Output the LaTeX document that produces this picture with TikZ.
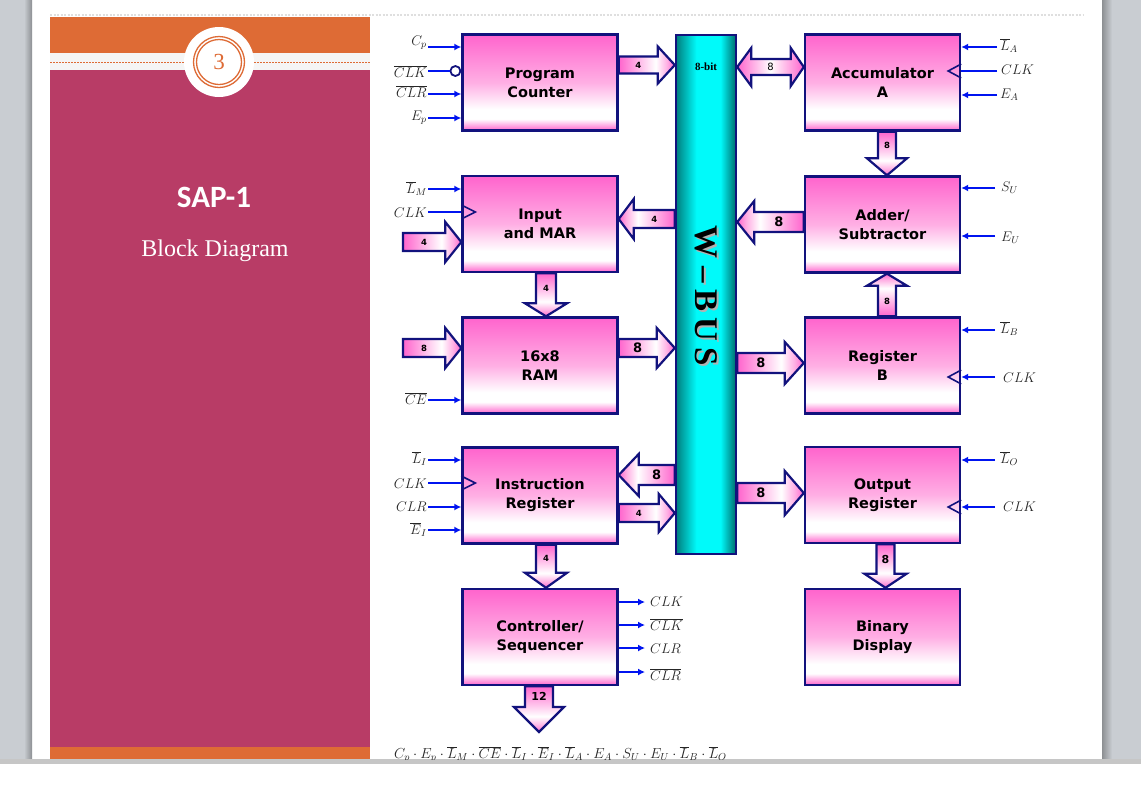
\RequirePackage{fix-cm}
\documentclass[tikz,border=0pt]{standalone}
\usepackage{fontspec}
\setsansfont{DejaVu Sans}
\newfontfamily\carlito{Carlito}
\newfontfamily\lserif{Liberation Serif}
\usetikzlibrary{arrows.meta,calc}

\definecolor{pk}{RGB}{255,100,205}
\definecolor{pkl}{RGB}{255,175,228}
\definecolor{navyb}{RGB}{18,18,125}
\definecolor{sigblue}{RGB}{0,20,240}
\definecolor{slorange}{RGB}{222,107,53}
\definecolor{slmag}{RGB}{184,60,102}
\definecolor{teal1}{RGB}{0,125,125}
\definecolor{cyan1}{RGB}{0,250,250}
\definecolor{sidegray}{RGB}{201,205,210}

\pgfdeclareverticalshading{boxshade}{100bp}{color(0bp)=(pk); color(25bp)=(pk); color(31bp)=(white); color(36bp)=(white); color(50bp)=(pkl); color(75bp)=(pk); color(100bp)=(pk)}
\pgfdeclarehorizontalshading{arrowshade}{100bp}{color(0bp)=(pk); color(25bp)=(pk); color(58bp)=(white); color(68bp)=(pkl); color(75bp)=(pk); color(100bp)=(pk)}
\pgfdeclarehorizontalshading{dblshade}{100bp}{color(0bp)=(pk); color(25bp)=(pk); color(50bp)=(white); color(75bp)=(pk); color(100bp)=(pk)}
\pgfdeclarehorizontalshading{busshade}{100bp}{color(0bp)=(teal1); color(25bp)=(teal1); color(42bp)=(cyan1); color(62bp)=(cyan1); color(75bp)=(teal1!85!black); color(100bp)=(teal1!85!black)}

\newcommand\boxf{\sffamily\bfseries\fontsize{14.5}{19}\selectfont}
\newcommand\smf{\sffamily\bfseries\fontsize{8.5}{10}\selectfont}
\newcommand\mdf{\sffamily\bfseries\fontsize{11}{13}\selectfont}
\newcommand\lgf{\sffamily\bfseries\fontsize{13}{15}\selectfont}
\newcommand\rgf{\sffamily\fontsize{10}{12}\selectfont}
\newcommand\labf{\fontsize{14}{16}\selectfont}
\newcommand\busf{\lserif\bfseries\fontsize{33}{34}\selectfont}

% horizontal fat arrow: angle, tail, tip, label, font, shaft half, head half, head length
\newcommand{\fatH}[8]{%
 \draw[fat, shading angle=#1] let \p1=#2, \p2=#3, \n1={ifthenelse(\x2>\x1,#8,-#8)} in
 (\x1,\y1+#6pt) -- ({\x2-(\n1)},\y1+#6pt) -- ({\x2-(\n1)},\y1+#7pt) -- (\x2,\y1)
 -- ({\x2-(\n1)},\y1-#7pt) -- ({\x2-(\n1)},\y1-#6pt) -- (\x1,\y1-#6pt) -- cycle
 node[font=#5, inner sep=0pt] at ({(\x1+\x2-(\n1))/2},\y1) {#4};}
% vertical fat arrow
\newcommand{\fatV}[8]{%
 \draw[fat, shading angle=#1] let \p1=#2, \p2=#3, \n1={ifthenelse(\y2>\y1,#8,-#8)} in
 (\x1+#6pt,\y1) -- (\x1+#6pt,{\y2-(\n1)}) -- (\x1+#7pt,{\y2-(\n1)}) -- (\x1,\y2)
 -- (\x1-#7pt,{\y2-(\n1)}) -- (\x1-#6pt,{\y2-(\n1)}) -- (\x1-#6pt,\y1) -- cycle
 node[font=#5, inner sep=0pt] at (\x1,{(\y1+\y2-(\n1))/2}) {#4};}
\newcommand{\clkL}[2]{\draw[clk] (#1.west |- 0,#2) ++(0,-7) -- ++(14,7) -- ++(-14,7);}
\newcommand{\clkR}[2]{\draw[clk] (#1.east |- 0,#2) ++(0,-7) -- ++(-13,7) -- ++(13,7);}

\begin{document}
\begin{tikzpicture}[x=1pt,y=-1pt,
  box/.style={draw=navyb, line width=2.4pt, shading=boxshade, minimum width=155pt, minimum height=96pt, inner sep=0pt, font=\boxf, align=center, text=black},
  fat/.style={draw=navyb, line width=2.2pt, line join=miter, shading=arrowshade},
  sig/.style={draw=sigblue, line width=2.2pt, -{Latex[length=7pt,width=7pt]}},
  sigp/.style={draw=sigblue, line width=2.2pt},
  clk/.style={draw=navyb, line width=1.6pt, line join=miter},
  lab/.style={font=\labf, text=black!85, inner sep=0pt},
  bubble/.style={circle, draw=navyb, line width=1.8pt, fill=white, minimum size=10pt, inner sep=0pt}
]
\useasboundingbox (0,0) rectangle (1141,807);
% slide background
\fill[white] (0,0) rectangle (1141,807);
\fill[sidegray] (0,0) rectangle (32,759);
\shade[left color=sidegray, right color=sidegray!70!black] (24,0) rectangle (32,759);
\fill[sidegray] (1102,0) rectangle (1141,759);
\shade[left color=sidegray!70!black, right color=sidegray] (1102,0) rectangle (1112,759);
\fill[gray!45] (0,759) rectangle (1141,764);
\draw[gray!25, line width=1.5pt, dash pattern=on 2pt off 1.5pt] (50,15) -- (1083,15);

% left panel
\fill[slorange] (50,17) rectangle (370,53);
\fill[gray!8] (50,53) rectangle (370,70);
\draw[slorange, line width=0.8pt, dash pattern=on 2pt off 1pt] (50,62) -- (370,62);
\fill[slmag] (50,70) rectangle (370,747);
\fill[slorange] (50,747) rectangle (370,759);
\node[circle, fill=white, minimum size=70pt, inner sep=0pt] (circ) at (219,62) {};
\draw[slorange, line width=1.3pt] (circ.center) circle[radius=25.5pt];
\draw[slorange, line width=1.3pt] (circ.center) circle[radius=22.5pt];
\node[font=\lserif\fontsize{23}{24}\selectfont, text=slorange] (num) at (219,62) {3};
\node[font=\carlito\bfseries\fontsize{31}{34}\selectfont, text=white] (title) at (214,197) {SAP-1};
\node[font=\lserif\fontsize{24}{26}\selectfont, text=white] (subtitle) at (215,251) {Block Diagram};

% blocks
\node[box] (pc) at (540,82.5) {Program\\Counter};
\node[box] (acc) at (882.5,82.5) {Accumulator\\A};
\node[box] (mar) at (540,224) {Input\\and MAR};
\node[box] (ram) at (540,365.5) {16x8\\RAM};
\node[box] (adder) at (882.5,224.5) {Adder/\\Subtractor};
\node[box] (regb) at (882.5,365.5) {Register\\B};
\node[box] (ir) at (540,495.5) {Instruction\\Register};
\node[box] (out) at (882.5,495) {Output\\Register};
\node[box] (ctrl) at (540,637) {Controller/\\Sequencer};
\node[box] (disp) at (882.5,637) {Binary\\Display};
\node[draw=navyb, line width=2.4pt, shading=busshade, minimum width=60pt, minimum height=519pt, inner sep=0pt] (bus) at (706,294.5) {};
\node[font=\lserif\bfseries\fontsize{11}{12}\selectfont] (bit) at (706,67) {8-bit};
\node[rotate=-90, font=\busf, text=gray!60] (wbuss) at (708,298) {W\hspace{0.22em}–\hspace{0.22em}B\hspace{0.18em}U\hspace{0.18em}S};
\node[rotate=-90, font=\busf, text=black] (wbus) at (706,296) {W\hspace{0.22em}–\hspace{0.22em}B\hspace{0.18em}U\hspace{0.18em}S};

% fat arrows
\fatH{0}{(pc.east |- 0,65)}{(bus.west |- 0,65)}{4}{\smf}{8.5}{18.5}{17}
\draw[fat, shading=dblshade] let \p1=(bus.east |- 0,67), \p2=(acc.west |- 0,67) in
 (\x1,\y1) -- (\x1+14pt,\y1+19pt) -- (\x1+14pt,\y1+8pt) -- (\x2-13pt,\y1+8pt) -- (\x2-13pt,\y1+19pt) -- (\x2,\y1)
 -- (\x2-13pt,\y1-19pt) -- (\x2-13pt,\y1-8pt) -- (\x1+14pt,\y1-8pt) -- (\x1+14pt,\y1-19pt) -- cycle
 node[font=\rgf, inner sep=0pt] at ({(\x1+\x2)/2},\y1) {8};
\fatH{180}{(bus.west |- 0,219)}{(mar.east |- 0,219)}{4}{\smf}{9}{20}{15}
\coordinate (inMAR) at (403,242);
\fatH{0}{(inMAR)}{(mar.west |- inMAR)}{4}{\smf}{9}{20}{16}
\fatV{-90}{([xshift=6pt]mar.south)}{([xshift=6pt]ram.north)}{4}{\smf}{10}{21}{13}
\coordinate (inRAM) at (403,348);
\fatH{0}{(inRAM)}{(ram.west |- inRAM)}{8}{\smf}{9}{20}{16}
\fatH{0}{(ram.east |- 0,348)}{(bus.west |- 0,348)}{8}{\lgf}{9}{20}{18}
\fatV{-90}{([xshift=4.5pt]acc.south)}{([xshift=4.5pt]adder.north)}{8}{\smf}{9}{20}{17}
\fatH{180}{(adder.west |- 0,222)}{(bus.east |- 0,222)}{8}{\lgf}{10}{21}{17}
\fatV{90}{([xshift=4.5pt]regb.north)}{([xshift=4.5pt]adder.south)}{8}{\smf}{9}{20}{12}
\fatH{0}{(bus.east |- 0,363)}{(regb.west |- 0,363)}{8}{\lgf}{10}{21}{19}
\fatH{180}{(bus.west |- 0,475)}{(ir.east |- 0,475)}{8}{\lgf}{10}{21}{20}
\fatH{0}{(ir.east |- 0,513)}{(bus.west |- 0,513)}{4}{\smf}{9}{19}{16}
\fatH{0}{(bus.east |- 0,493)}{(out.west |- 0,493)}{8}{\lgf}{10}{22}{19}
\fatV{-90}{([xshift=6pt]ir.south)}{([xshift=6pt]ctrl.north)}{4}{\smf}{10}{21}{15}
\fatV{-90}{([xshift=3pt]out.south)}{([xshift=3pt]disp.north)}{8}{\mdf}{9}{21}{14}
\coordinate (c12) at (539,732);
\fatV{-90}{(ctrl.south -| c12)}{(c12)}{12}{\mdf}{14}{25}{25}

% Program counter inputs
\coordinate (pcs1) at (428,47);
\node[lab, anchor=base east] (tcp) at (427,45) {$C_p$};
\draw[sig] (pcs1) -- (pcs1 -| pc.west);
\coordinate (pcs2) at (428,71);
\node[lab, anchor=base east] (tclkb) at (427,77) {$\overline{CLK}$};
\node[bubble, anchor=east] (bub) at (pc.west |- pcs2) {};
\draw[sigp] (pcs2) -- (bub.west);
\coordinate (pcs3) at (428,94);
\node[lab, anchor=base east] (tclrb) at (427,97) {$\overline{CLR}$};
\draw[sig] (pcs3) -- (pcs3 -| pc.west);
\coordinate (pcs4) at (428,118);
\node[lab, anchor=base east] (tep) at (427,120) {$E_p$};
\draw[sig] (pcs4) -- (pcs4 -| pc.west);

% Accumulator inputs
\coordinate (as1) at (997,47);
\node[lab, anchor=base west] (tla) at (1000,50) {$\overline{L}_A$};
\draw[sig] (as1) -- (as1 -| acc.east);
\coordinate (as2) at (997,71);
\node[lab, anchor=base west] (taclk) at (1001,74) {$CLK$};
\draw[sigp] (as2) -- (as2 -| acc.east);
\clkR{acc}{71}
\coordinate (as3) at (997,95);
\node[lab, anchor=base west] (tea) at (1000,98) {$E_A$};
\draw[sig] (as3) -- (as3 -| acc.east);

% MAR inputs
\coordinate (ms1) at (428,189);
\node[lab, anchor=base east] (tlm) at (427,193) {$\overline{L}_M$};
\draw[sig] (ms1) -- (ms1 -| mar.west);
\coordinate (ms2) at (428,212);
\node[lab, anchor=base east] (tmclk) at (427,217) {$CLK$};
\draw[sigp] (ms2) -- (ms2 -| mar.west);
\clkL{mar}{212}

% RAM input
\coordinate (rs1) at (428,400);
\node[lab, anchor=base east] (tce) at (427,404) {$\overline{CE}$};
\draw[sig] (rs1) -- (rs1 -| ram.west);

% Adder inputs
\coordinate (ds1) at (995,188);
\node[lab, anchor=base west] (tsu) at (1001,191) {$S_U$};
\draw[sig] (ds1) -- (ds1 -| adder.east);
\coordinate (ds2) at (995,236);
\node[lab, anchor=base west] (teu) at (1001,241) {$E_U$};
\draw[sig] (ds2) -- (ds2 -| adder.east);

% Register B inputs
\coordinate (bs1) at (995,330);
\node[lab, anchor=base west] (tlb) at (1000,333) {$\overline{L}_B$};
\draw[sig] (bs1) -- (bs1 -| regb.east);
\coordinate (bs2) at (995,377);
\node[lab, anchor=base west] (tbclk) at (1003,382) {$CLK$};
\draw[sig] (bs2) -- (bs2 -| regb.east);
\clkR{regb}{377}

% IR inputs
\coordinate (is1) at (428,460);
\node[lab, anchor=base east] (tli) at (427,463) {$\overline{L}_I$};
\draw[sig] (is1) -- (is1 -| ir.west);
\coordinate (is2) at (428,483);
\node[lab, anchor=base east] (ticlk) at (427,488) {$CLK$};
\draw[sigp] (is2) -- (is2 -| ir.west);
\clkL{ir}{483}
\coordinate (is3) at (428,507);
\node[lab, anchor=base east] (ticlr) at (427,511) {$CLR$};
\draw[sig] (is3) -- (is3 -| ir.west);
\coordinate (is4) at (428,530);
\node[lab, anchor=base east] (tei) at (427,534) {$\overline{E}_I$};
\draw[sig] (is4) -- (is4 -| ir.west);

% Output register inputs
\coordinate (os1) at (995,460);
\node[lab, anchor=base west] (tlo) at (1000,463) {$\overline{L}_O$};
\draw[sig] (os1) -- (os1 -| out.east);
\coordinate (os2) at (995,507);
\node[lab, anchor=base west] (toclk) at (1003,511) {$CLK$};
\draw[sig] (os2) -- (os2 -| out.east);
\clkR{out}{507}

% Controller outputs
\coordinate (co1) at (645,602);
\node[lab, anchor=base west] (tc1) at (650,606) {$CLK$};
\draw[sig] (co1 -| ctrl.east) -- (co1);
\coordinate (co2) at (645,625);
\node[lab, anchor=base west] (tc2) at (650,630) {$\overline{CLK}$};
\draw[sig] (co2 -| ctrl.east) -- (co2);
\coordinate (co3) at (645,648);
\node[lab, anchor=base west] (tc3) at (650,653) {$CLR$};
\draw[sig] (co3 -| ctrl.east) -- (co3);
\coordinate (co4) at (645,672);
\node[lab, anchor=base west] (tc4) at (650,680) {$\overline{CLR}$};
\draw[sig] (co4 -| ctrl.east) -- (co4);

% control word (clipped by page edge)
\begin{scope}
\clip (32,0) rectangle (1102,759.5);
\node[lab, anchor=base west] (cw) at (394,758) {\fontsize{14.5}{16}\selectfont$C_p\cdot E_p\cdot \overline{L}_M\cdot\overline{CE}\cdot\overline{L}_I\cdot\overline{E}_I\cdot\overline{L}_A\cdot E_A\cdot S_U\cdot E_U\cdot\overline{L}_B\cdot\overline{L}_O$};
\end{scope}
\end{tikzpicture}
\end{document}
